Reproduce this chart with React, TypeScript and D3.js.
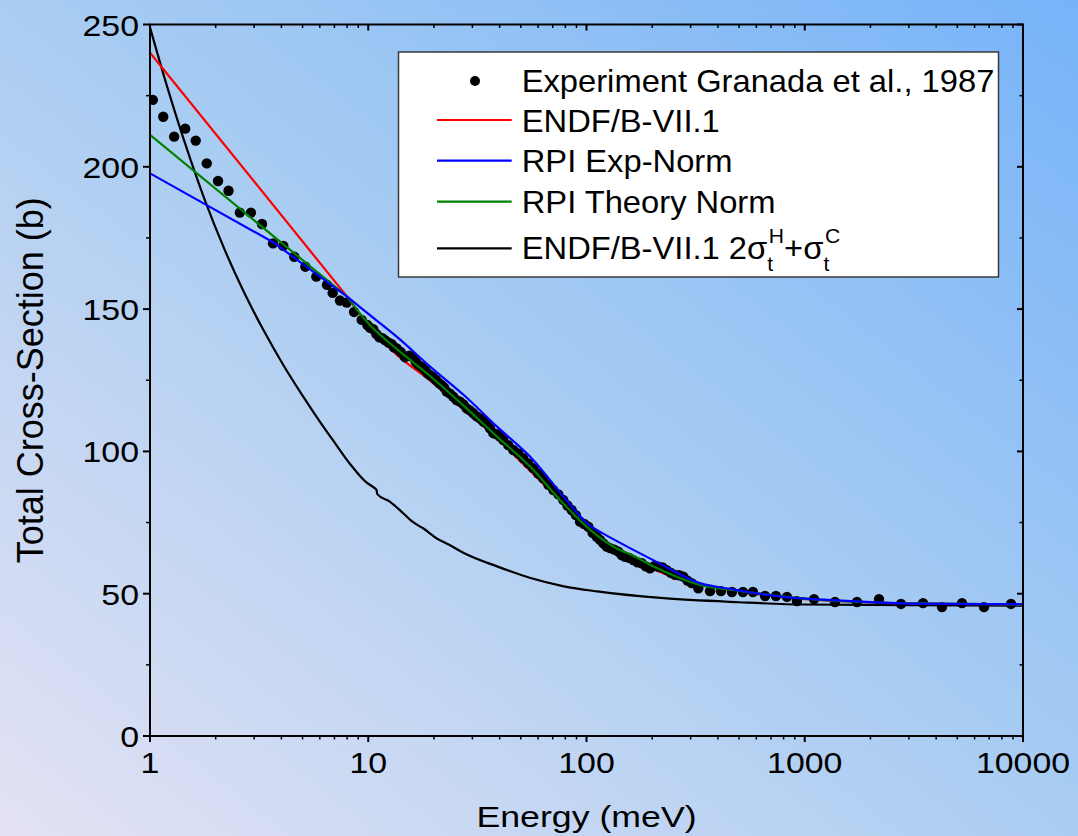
import React from 'react';
import * as d3 from 'd3';

const W = 1078;
const H = 836;

const X_TICKS = [1, 10, 100, 1000, 10000];
const X_TICK_LABELS = ['1', '10', '100', '1000', '10000'];
const Y_TICKS = [0, 50, 100, 150, 200, 250];
const Y_TICK_LABELS = ['0', '50', '100', '150', '200', '250'];
const Y_MINOR = [25, 75, 125, 175, 225];

const EXP_E = [1.03, 1.15, 1.29, 1.45, 1.62, 1.82, 2.05, 2.29, 2.58, 2.90, 3.26, 3.66, 4.08, 4.58, 5.15, 5.78, 6.47, 6.87, 7.42, 7.97, 8.61, 9.33, 9.90,
  10.2, 10.55, 10.9, 11.24, 11.6, 11.93, 12.4, 12.81, 13.1, 13.5, 14.1, 14.74, 15.4, 15.99, 16.5, 16.96, 17.6, 18.2, 18.7, 19.19,
  19.8, 20.44, 21.1, 21.71, 22.3, 22.88, 23.7, 24.53, 25.4, 26.33, 27.3, 28.26, 29.2, 30.29, 31.4, 32.51, 33.7, 34.89, 36.1, 37.41,
  38.8, 40.15, 41.58, 43.8, 46.2, 48.7, 51.3, 54.0, 57.0, 60.1, 63.4, 66.9, 70.5, 74.3, 78.3, 81.8, 85.5, 89.4, 93.4, 97.6,
  102.0, 106.6, 111.4, 115.3, 119.4, 123.7, 128.2, 133.9, 139.9, 144.9, 150.1, 156.8, 163.9, 171.3, 179.0, 187.0, 195.4, 204.2, 213.4, 223.0,
  233.1, 243.5, 254.4, 265.8, 277.7, 290.3, 303.4, 325.3, 368, 413, 464, 521, 579, 658, 738, 829, 921, 1103,
  1376, 1735, 2189, 2761, 3483, 4255, 5254, 6627, 8810];
const EXP_SIGMA = [223.5, 217.6, 210.6, 213.4, 209.2, 201.2, 195.0, 191.6, 183.9, 183.9, 179.9, 173.1, 172.2, 168.4, 164.9, 161.4, 158.5, 155.7, 153.0, 152.3, 149.0, 146.2, 144.4,
  143.4, 142.9, 141.2, 140.1, 139.8, 139.1, 138.2, 137.7, 136.6, 136.2, 134.9, 133.1, 133.6, 133.1, 131.5, 130.4, 129.7, 128.6, 127.4, 126.8,
  126.1, 125.1, 124.0, 123.3, 122.4, 121.0, 120.3, 119.2, 118.0, 117.5, 116.5, 115.1, 114.4, 113.4, 112.3, 111.6, 110.5, 109.9, 108.1, 106.4,
  106.0, 105.2, 104.0, 102.2, 100.5, 99.3, 97.6, 95.8, 94.1, 92.2, 90.5, 88.3, 86.4, 84.9, 82.9, 81.0, 79.4, 77.6, 75.3, 74.5,
  73.5, 71.4, 70.0, 68.9, 67.7, 66.6, 66.0, 65.5, 64.8, 63.6, 63.0, 62.6, 61.8, 61.0, 60.7, 59.6, 58.9, 59.7, 59.5, 59.2,
  58.3, 57.3, 56.6, 56.5, 56.0, 54.6, 53.7, 51.9, 50.9, 50.9, 50.6, 50.6, 50.6, 49.2, 49.2, 48.9, 47.4, 48.1,
  47.1, 47.1, 48.1, 46.4, 46.7, 45.3, 46.7, 45.3, 46.4];

const ENDF_E = [1, 8, 10, 13.5, 19.2, 27.4, 38.9, 55.4, 78.7, 104, 133, 190, 300, 460, 780, 1560, 3160, 10000];
const ENDF_SIGMA = [240.1, 154.4, 144.5, 134.0, 124.9, 114.8, 104.6, 93.0, 81.5, 72.5, 66.0, 59.6, 54.0, 51.2, 48.8, 47.3, 46.5, 46.2];

const RPI_EXP_E = [1, 3.7, 8, 9.5, 13.5, 19.2, 27.4, 38.9, 57, 78.7, 104, 115, 164, 202, 331, 460, 780, 1560, 3160, 10000];
const RPI_EXP_SIGMA = [197.7, 173.3, 154.4, 149.7, 140.3, 129.8, 119.8, 108.7, 97.0, 84.0, 73.8, 71.8, 65.4, 61.8, 53.7, 51.6, 49.0, 47.5, 46.5, 46.3];

const RPI_TH_E = [1, 8, 10, 13.5, 19.2, 27.4, 38.9, 55.4, 78.7, 104, 133, 164, 200, 331, 500, 1000, 2000, 4000, 10000];
const RPI_TH_SIGMA = [211.2, 154.4, 145.0, 136.0, 126.5, 116.0, 105.2, 94.5, 81.5, 72.4, 66.5, 63.3, 59.8, 53.1, 51.0, 48.3, 47.0, 46.5, 46.2];

const FREE_E = [1, 1.2, 1.4, 1.55, 1.8, 2.2, 2.7, 3.3, 4.1, 5.0, 6.0, 7.0, 8.27, 9.84, 10.47, 10.92, 11.0, 12.6, 14.5, 16.0, 17.9, 20.6, 23.6, 27.4, 38.9, 55.4, 78.7, 112, 218, 500, 1000, 3000, 10000];
const FREE_SIGMA = [249, 228.0, 211.6, 201.5, 187.5, 170.8, 155.8, 142.8, 130.1, 119.6, 110.5, 103.2, 95.5, 89.0, 87.6, 86.4, 85.0, 82.3, 78.2, 75.2, 72.9, 69.4, 67.1, 64.3, 59.6, 55.5, 52.6, 50.8, 48.5, 47.0, 46.2, 46.0, 45.8];

const LEGEND_LABELS = ['Experiment Granada et al., 1987', 'ENDF/B-VII.1', 'RPI Exp-Norm', 'RPI Theory Norm'];
const LEGEND_COLORS = ['#000000', '#ff0000', '#0000ff', '#008000', '#000000'];

// energy below which the evaluated curves are straight segments on the log axis
const STRAIGHT_UNTIL = 8;

const FONT = '"Liberation Sans", Arial, Helvetica, sans-serif';

export default function App() {
  const left = 150, right = 1023, top = 24.5, bottom = 736;
  const x = d3.scaleLog().domain([1, 10000]).range([left, right]);
  const y = d3.scaleLinear().domain([0, 250]).range([bottom, top]);

  const zip = (es: number[], vs: number[]) => es.map((e, i) => [e, vs[i]] as [number, number]);
  const lin = d3.line<[number, number]>().x(d => x(d[0])).y(d => y(d[1]));
  const smooth = d3.line<[number, number]>().x(d => x(d[0])).y(d => y(d[1])).curve(d3.curveMonotoneX);

  const evalPath = (es: number[], vs: number[]) => {
    const pts = zip(es, vs);
    const a = pts.filter(p => p[0] <= STRAIGHT_UNTIL);
    const b = pts.filter(p => p[0] >= STRAIGHT_UNTIL);
    return (lin(a) || '') + ' ' + (smooth(b) || '');
  };

  const xMinor: number[] = [];
  [1, 10, 100, 1000].forEach(d => { for (let k = 2; k <= 9; k++) xMinor.push(d * k); });

  const exp = zip(EXP_E, EXP_SIGMA);

  const legendBaselines = [91.7, 131.7, 171.7, 212.7, 259.3];
  const legendLineY = [81, 120, 160.7, 201.7, 248.3];

  return (
    <svg width={W} height={H} style={{ position: 'absolute', left: 0, top: 0, display: 'block' }} fontFamily={FONT}>
      <defs>
        <linearGradient id="bg" x1="0" y1="1" x2="1" y2="0">
          <stop offset="0" stopColor="#e4e2f4" />
          <stop offset="0.5" stopColor="#aacdf2" />
          <stop offset="1" stopColor="#76b3f8" />
        </linearGradient>
        <clipPath id="plot">
          <rect x={left} y={top} width={right - left} height={bottom - top} />
        </clipPath>
      </defs>
      <rect x={0} y={0} width={W} height={H} fill="url(#bg)" />

      <g clipPath="url(#plot)">
        <path d={smooth(zip(FREE_E, FREE_SIGMA)) || ''} fill="none" stroke="#000" strokeWidth={2.2} />
        <path d={evalPath(ENDF_E, ENDF_SIGMA)} fill="none" stroke="#ff0000" strokeWidth={2.2} />
        {exp.map((d, i) => (
          <circle key={i} cx={x(d[0])} cy={y(d[1])} r={5.2} fill="#000" />
        ))}
        <path d={evalPath(RPI_TH_E, RPI_TH_SIGMA)} fill="none" stroke="#008000" strokeWidth={2.2} />
        <path d={evalPath(RPI_EXP_E, RPI_EXP_SIGMA)} fill="none" stroke="#0000ff" strokeWidth={2.2} />
      </g>

      {/* frame */}
      <rect x={left} y={top} width={right - left} height={bottom - top} fill="none" stroke="#000" strokeWidth={2} />

      {/* x ticks */}
      {X_TICKS.map(t => (
        <g key={'xt' + t}>
          <line x1={x(t)} x2={x(t)} y1={bottom} y2={bottom + 6} stroke="#000" strokeWidth={2} />
          <line x1={x(t)} x2={x(t)} y1={top} y2={top + 6} stroke="#000" strokeWidth={2} />
        </g>
      ))}
      {xMinor.map(t => (
        <g key={'xm' + t}>
          <line x1={x(t)} x2={x(t)} y1={bottom} y2={bottom + 3.5} stroke="#000" strokeWidth={1.5} />
          <line x1={x(t)} x2={x(t)} y1={top} y2={top + 3.5} stroke="#000" strokeWidth={1.5} />
        </g>
      ))}
      {X_TICKS.map((t, i) => (
        <g key={'xl' + t} transform={`translate(${x(t)},773) scale(1.13,1)`}>
          <text textAnchor="middle" fontSize={30} fill="#000">{X_TICK_LABELS[i]}</text>
        </g>
      ))}

      {/* y ticks */}
      {Y_TICKS.map(t => (
        <g key={'yt' + t}>
          <line x1={left - 7} x2={left} y1={y(t)} y2={y(t)} stroke="#000" strokeWidth={2} />
          <line x1={right - 6} x2={right} y1={y(t)} y2={y(t)} stroke="#000" strokeWidth={2} />
        </g>
      ))}
      {Y_MINOR.map(t => (
        <g key={'ym' + t}>
          <line x1={left - 4} x2={left} y1={y(t)} y2={y(t)} stroke="#000" strokeWidth={1.5} />
          <line x1={right - 3.5} x2={right} y1={y(t)} y2={y(t)} stroke="#000" strokeWidth={1.5} />
        </g>
      ))}
      {Y_TICKS.map((t, i) => (
        <g key={'yl' + t} transform={`translate(139,${y(t) + 11}) scale(1.13,1)`}>
          <text textAnchor="end" fontSize={30} fill="#000">{Y_TICK_LABELS[i]}</text>
        </g>
      ))}

      {/* axis titles */}
      <g transform={`translate(${(left + right) / 2},827) scale(1.19,1)`}>
        <text textAnchor="middle" fontSize={30} fill="#000">Energy (meV)</text>
      </g>
      <g transform={`translate(43,${(top + bottom) / 2}) rotate(-90)`}>
        <text textAnchor="middle" fontSize={36} fill="#000">Total Cross-Section (b)</text>
      </g>

      {/* legend */}
      <rect x={398.5} y={52} width={600} height={225} fill="#ffffff" stroke="#3a3a3a" strokeWidth={1.5} />
      <circle cx={475} cy={legendLineY[0]} r={5} fill="#000" />
      {[1, 2, 3, 4].map(i => (
        <line key={'ll' + i} x1={437} x2={511.7} y1={legendLineY[i]} y2={legendLineY[i]} stroke={LEGEND_COLORS[i]} strokeWidth={2.2} />
      ))}
      {LEGEND_LABELS.map((lab, i) => (
        <g key={'lt' + i} transform={`translate(521.7,${legendBaselines[i]}) scale(1.055,1)`}>
          <text fontSize={31} fill="#000">{lab}</text>
        </g>
      ))}
      <g transform={`translate(521.7,${legendBaselines[4]}) scale(1.055,1)`}>
        <text fontSize={31} fill="#000">
          ENDF/B-VII.1 2σ
          <tspan fontSize={20} dy={12}>t</tspan>
          <tspan fontSize={20} dx={-4} dy={-28}>H</tspan>
          <tspan fontSize={31} dy={16}>+σ</tspan>
          <tspan fontSize={20} dy={12}>t</tspan>
          <tspan fontSize={20} dx={-4} dy={-28}>C</tspan>
        </text>
      </g>
    </svg>
  );
}
